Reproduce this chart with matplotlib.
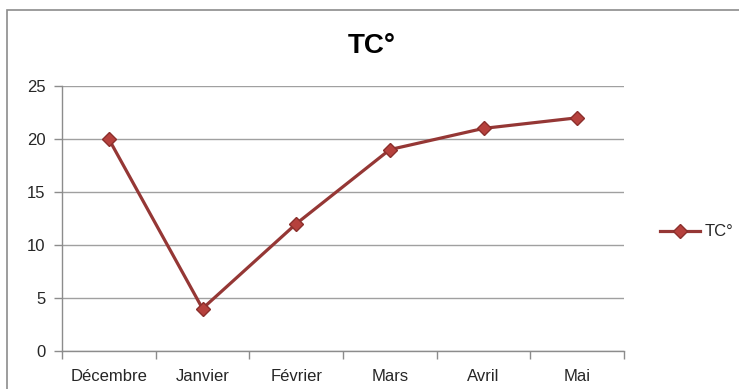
import matplotlib.pyplot as plt
from matplotlib.patches import Rectangle
from matplotlib.ticker import FixedLocator

mois = ['Décembre', 'Janvier', 'Février', 'Mars', 'Avril', 'Mai']
tc = [20, 4, 12, 19, 21, 22]
yticks = [0, 5, 10, 15, 20, 25]

plt.rcParams['font.family'] = ['Liberation Sans', 'DejaVu Sans']
TXT = '#262626'
GRIS = '#8c8c8c'

dpi = 100
fig = plt.figure(figsize=(739 / dpi, 389 / dpi), dpi=dpi)
fig.patch.set_facecolor('white')

# cadre du graphique
fig.patches.append(Rectangle((7 / 739, -0.1), 1.1, 1 - 10 / 389 + 0.1,
                             transform=fig.transFigure, fill=False,
                             edgecolor=GRIS, linewidth=1.2))

ax = fig.add_axes([62 / 739, 38 / 389, 562 / 739, 265 / 389])
x = list(range(len(mois)))
ax.plot(x, tc, color='#953735', linewidth=2.3, marker='D', markersize=7,
        markerfacecolor='#b6413d', markeredgecolor='#8b2f2c',
        markeredgewidth=1.0, label='TC°', zorder=3)

ax.set_xlim(-0.5, len(mois) - 0.5)
ax.set_ylim(0, 25)
ax.set_yticks(yticks)
ax.set_xticks(x)
ax.set_xticklabels(mois)
ax.xaxis.set_minor_locator(FixedLocator([i - 0.5 for i in range(len(mois) + 1)]))
ax.tick_params(axis='x', which='major', length=0, pad=13, labelsize=12, colors=TXT)
ax.tick_params(axis='x', which='minor', length=6, color=GRIS, width=1)
ax.tick_params(axis='y', length=6, color=GRIS, width=1, labelsize=12,
               labelcolor=TXT, pad=6)
ax.grid(axis='y', color='#a0a0a0', linewidth=1)
ax.set_axisbelow(True)
for s in ['top', 'right']:
    ax.spines[s].set_visible(False)
for s in ['left', 'bottom']:
    ax.spines[s].set_color(GRIS)
    ax.spines[s].set_linewidth(1)

fig.text(372 / 739, 1 - 46 / 389, 'TC°', ha='center', va='center',
         fontsize=20, fontweight='bold', color='black')

fig.legend(loc='center left', bbox_to_anchor=(645 / 739, 1 - 232 / 389),
           frameon=False, fontsize=12, handlelength=2.4, handletextpad=0.3,
           labelcolor=TXT)

fig.savefig('out.png', dpi=dpi)
